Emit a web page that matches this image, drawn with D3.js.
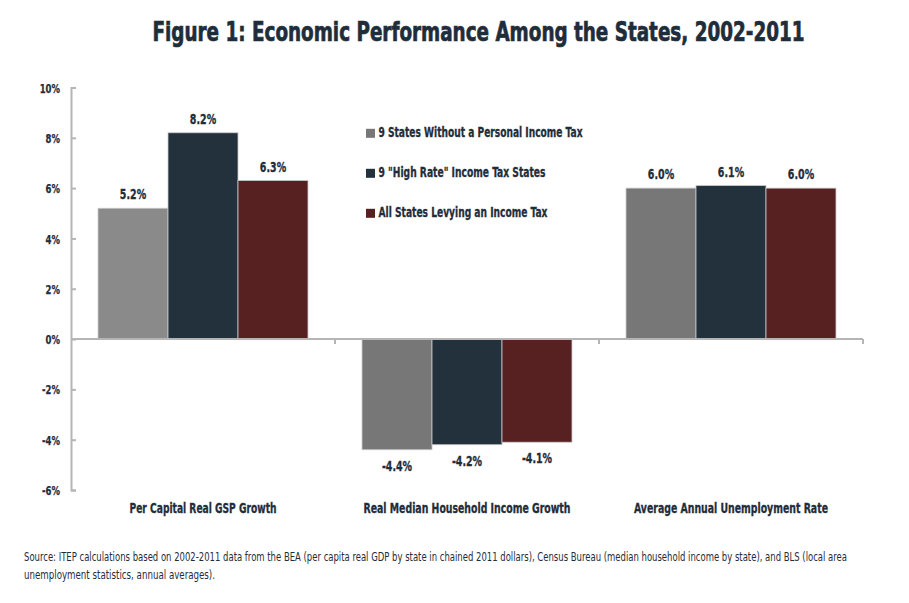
<!DOCTYPE html>
<html><head><meta charset="utf-8">
<script src="https://cdn.jsdelivr.net/npm/d3@7"></script>
<style>
body{margin:0;background:#fff;}
svg text{font-family:"DejaVu Sans Condensed","Liberation Sans Narrow","Roboto Condensed",sans-serif;}
</style></head>
<body>
<svg id="chart" width="909" height="603"></svg>
<script>
const categories = ["Per Capital Real GSP Growth","Real Median Household Income Growth","Average Annual Unemployment Rate"];
const seriesNames = ["9 States Without a Personal Income Tax","9 \"High Rate\" Income Tax States","All States Levying an Income Tax"];
const noTaxValues = [5.2, -4.4, 6.0];
const highRateValues = [8.2, -4.2, 6.1];
const allTaxValues = [6.3, -4.1, 6.0];
const yTicks = [-6,-4,-2,0,2,4,6,8,10];
const titleText = "Figure 1: Economic Performance Among the States, 2002-2011";
const sourceLines = ["Source: ITEP calculations based on 2002-2011 data from the BEA (per capita real GDP by state in chained 2011 dollars), Census Bureau (median household income by state), and BLS (local area","unemployment statistics, annual averages)."];

(function(){
const colors = ["#777777","#22313c","#582121"];
const textColor = "#1f2d3a";
const seriesValues = [noTaxValues, highRateValues, allTaxValues];

const svg = d3.select("#chart");
const mLeft = 71, mRight = 863, mTop = 87.5, mBottom = 490;

function condense(sel, ratio){
  sel.each(function(){
    const w = this.getComputedTextLength();
    d3.select(this).attr("textLength", w*ratio).attr("lengthAdjust","spacingAndGlyphs");
  });
  return sel;
}

const y = d3.scaleLinear().domain([-6,10]).range([mBottom, mTop]);
const x0 = d3.scaleBand().domain(categories).range([mLeft,mRight]).paddingInner(0).paddingOuter(0);
const x1 = d3.scaleBand().domain(d3.range(3)).range([0, x0.bandwidth()]).paddingInner(0).paddingOuter(0.386);

// title
svg.append("text").attr("x",478.5).attr("y",41).attr("text-anchor","middle")
  .attr("font-size",27).attr("font-weight","bold").attr("fill",textColor)
  .attr("stroke",textColor).attr("stroke-width",0.7).text(titleText)
  .attr("textLength",652).attr("lengthAdjust","spacingAndGlyphs");

// y axis
const yAxis = d3.axisLeft(y).tickValues(yTicks).tickFormat(d=>d+"%").tickSize(-5).tickPadding(11);
const ga = svg.append("g").attr("transform",`translate(${mLeft},0)`).call(yAxis);
ga.select(".domain").attr("stroke","#b5b5b5").attr("stroke-width",2);
ga.selectAll(".tick line").attr("stroke","#b5b5b5").attr("stroke-width",2);
ga.selectAll(".tick text").attr("font-size",11.5).attr("font-weight","bold").attr("fill",textColor)
  .attr("stroke",textColor).attr("stroke-width",0.25)
  .attr("font-family",'"DejaVu Sans Condensed",sans-serif').attr("dy","0.4em");
condense(ga.selectAll(".tick text"), 0.82);

// bars
const groups = svg.append("g").selectAll("g").data(categories).join("g")
  .attr("transform",d=>`translate(${x0(d)},0)`);
groups.each(function(cat,ci){
  const g = d3.select(this);
  seriesValues.forEach((vals,si)=>{
    const v = vals[ci];
    let fill = colors[si];
    if(si===0 && ci===0) fill = "#8a8a8a";
    g.append("rect").attr("x",x1(si)).attr("width",x1.bandwidth())
      .attr("y",y(Math.max(0,v))).attr("height",Math.abs(y(v)-y(0)))
      .attr("fill",fill).attr("stroke","#c8c8c8").attr("stroke-width",0.8);
    const lbl = g.append("text").attr("x",x1(si)+x1.bandwidth()/2)
      .attr("y", v>=0 ? y(v)-9 : y(v)+21)
      .attr("text-anchor","middle").attr("font-size",13.5).attr("font-weight","bold")
      .attr("fill",textColor).attr("stroke",textColor).attr("stroke-width",0.3)
      .text(v.toFixed(1)+"%");
    condense(lbl, 0.78);
  });
});

// zero line and category ticks
svg.append("line").attr("x1",mLeft).attr("x2",mRight).attr("y1",y(0)).attr("y2",y(0))
  .attr("stroke","#b5b5b5").attr("stroke-width",2);
[1,2,3].forEach(i=>{
  const xx = mLeft + i*x0.bandwidth();
  svg.append("line").attr("x1",xx).attr("x2",xx).attr("y1",y(0)).attr("y2",y(0)+5)
    .attr("stroke","#b5b5b5").attr("stroke-width",2);
});

// category labels
const catW = [147, 207, 194];
svg.append("g").selectAll("text").data(categories).join("text")
  .attr("x",d=>x0(d)+x0.bandwidth()/2).attr("y",513).attr("text-anchor","middle")
  .attr("font-size",13.5).attr("font-weight","bold").attr("fill",textColor)
  .attr("stroke",textColor).attr("stroke-width",0.3).text(d=>d)
  .attr("textLength",(d,i)=>catW[i]).attr("lengthAdjust","spacingAndGlyphs");

// legend
const legW = [204, 167, 169];
const lg = svg.append("g");
seriesNames.forEach((n,i)=>{
  const yy = 137.3 + i*40;
  lg.append("rect").attr("x",366).attr("y",yy-8.5).attr("width",9).attr("height",9).attr("fill",colors[i]);
  lg.append("text").attr("x",378.5).attr("y",yy).attr("font-size",13.5).attr("font-weight","bold")
    .attr("fill",textColor).attr("stroke",textColor).attr("stroke-width",0.3).text(n)
    .attr("textLength",legW[i]).attr("lengthAdjust","spacingAndGlyphs");
});

// source
const srcW = [823, 191];
svg.append("g").selectAll("text").data(sourceLines).join("text")
  .attr("x",24).attr("y",(d,i)=>561+i*18).attr("font-size",11.5).attr("fill",textColor).text(d=>d)
  .attr("textLength",(d,i)=>srcW[i]).attr("lengthAdjust","spacingAndGlyphs");
})();
</script>
</body></html>
